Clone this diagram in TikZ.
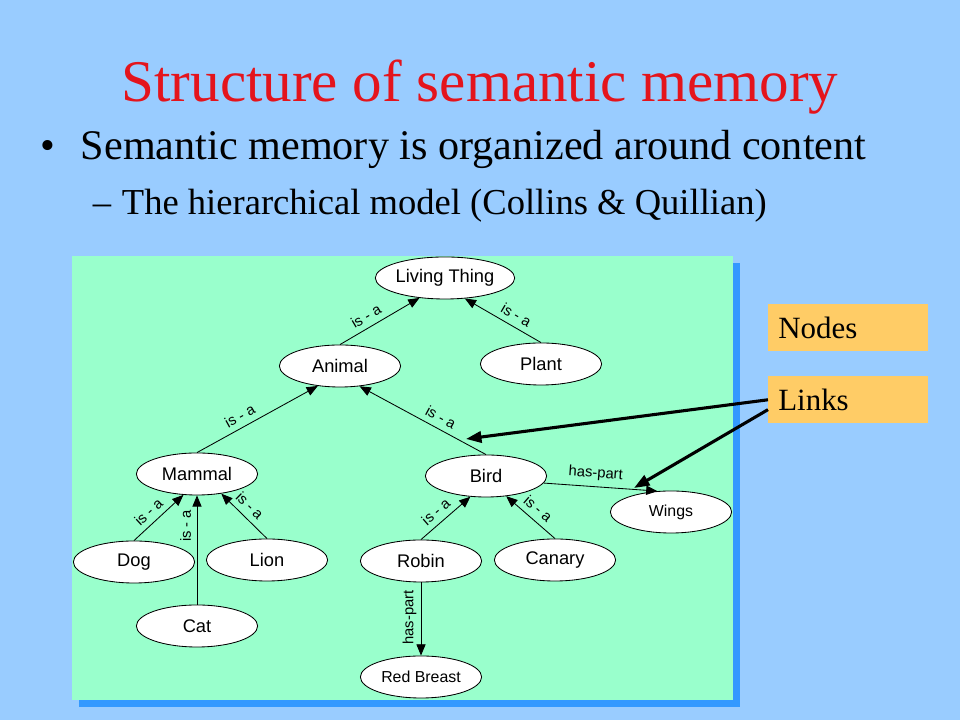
\documentclass[tikz,border=0pt]{standalone}
\usepackage{fontspec}
\setmainfont{Liberation Serif}
\setsansfont{Liberation Sans}
\usetikzlibrary{shapes.geometric,arrows.meta}
\definecolor{slideblue}{RGB}{153,204,255}
\definecolor{panelgreen}{RGB}{153,255,204}
\definecolor{panelshadow}{RGB}{51,153,255}
\definecolor{keyorange}{RGB}{255,204,102}
\definecolor{titlered}{RGB}{228,20,28}
\begin{document}
\begin{tikzpicture}[x=0.025cm,y=0.025cm,
    concept/.style={ellipse,draw,fill=white,line width=.6pt,inner sep=0pt,
      minimum width=3.03cm,minimum height=1.05cm,font=\sffamily\fontsize{13}{15}\selectfont},
    part/.style={concept,font=\sffamily\fontsize{11.3}{13}\selectfont},
    rel/.style={sloped,above=3pt,inner sep=1pt,font=\sffamily\fontsize{10.5}{12}\selectfont},
    keybox/.style={fill=keyorange,anchor=north west,text width=3.5cm,inner xsep=.25cm,
      minimum height=1.175cm,align=left,font=\fontsize{22}{26}\selectfont},
    pointer/.style={line width=2.2pt,-{Triangle[length=11pt,width=8pt]}}]
  % slide and panel
  \fill[slideblue] (0,0) rectangle (960,720);
  \fill[panelshadow] (79,13) rectangle (740,457);
  \fill[panelgreen] (72,20) rectangle (733,464);

  % heading
  \node[anchor=base,text=titlered,font=\fontsize{42}{48}\selectfont] (title) at (480,618) {Structure of semantic memory};
  \node[anchor=base west,font=\fontsize{30}{36}\selectfont] (dot) at (36,560) {•};
  \node[anchor=base west,font=\fontsize{30}{36}\selectfont] (point) at (76,560) {Semantic memory is organized around content};
  \node[anchor=base west,font=\fontsize{26}{30}\selectfont] (dash) at (88,505) {–};
  \node[anchor=base west,font=\fontsize{26}{30}\selectfont] (subpoint) at (117,505) {The hierarchical model (Collins \& Quillian)};

  \draw
    (445,442) node[concept] (living){Living Thing}
    (340,354) node[concept] (animal){Animal}
    (541,356) node[concept] (plant){Plant}
    (197,246) node[concept] (mammal){Mammal}
    (486,244) node[concept] (bird){Bird}
    (671,208) node[part] (wings){Wings}
    (134,158) node[concept] (dog){Dog}
    (267,160) node[concept] (lion){Lion}
    (197,94) node[concept] (cat){Cat}
    (421,159) node[concept] (robin){Robin}
    (555,160) node[concept] (canary){Canary}
    (421,43) node[part] (redbreast){Red Breast};
  \begin{scope}[-{Triangle[length=8pt,width=6.5pt]},line width=.6pt]
    \draw (animal.north) to node[rel,pos=.4]{is - a} (living.218);
    \draw (plant.north) to node[rel,pos=.4]{is - a} (living.314);
    \draw (mammal.north) to node[rel,pos=.4]{is - a} (animal.222);
    \draw (bird.north) to node[rel,pos=.4]{is - a} (animal.314);
    \draw (dog.north) to node[rel,pos=.45]{is - a} (mammal.237);
    \draw (cat) to node[rel,pos=.72]{is - a} (mammal);
    \draw (lion.north) to node[rel,pos=.55]{is - a} (mammal.321);
    \draw (robin.north) to node[rel,pos=.45]{is - a} (bird.233);
    \draw (canary.north) to node[rel,pos=.5]{is - a} (bird.315);
    \draw (bird.353) to node[rel,pos=.45]{has-part} (wings.123);
    \draw (robin) to node[font=\sffamily\fontsize{10.5}{12}\selectfont,rotate=90,anchor=south,inner sep=3pt,pos=.48]{has-part} (redbreast);
  \end{scope}

  % key
  \node[keybox] (nodesbox) at (768,416) {Nodes};
  \node[keybox] (links) at (768,344) {Links};
  \coordinate (tipA) at (466,281);
  \coordinate (tipB) at (634,232);
  \draw[pointer] (links.west) -- (tipA);
  \draw[pointer] (links.187) -- (tipB);
\end{tikzpicture}
\end{document}
